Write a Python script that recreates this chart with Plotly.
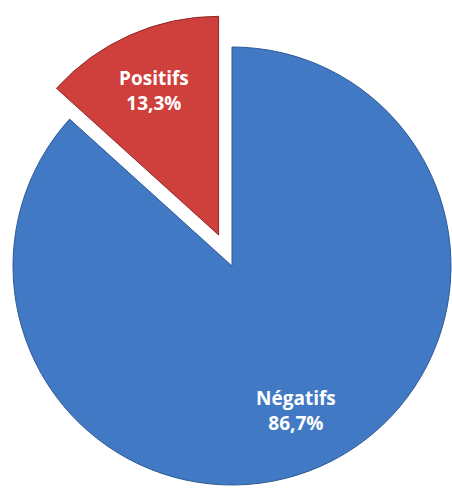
import math
import plotly.graph_objects as go

# Share of test results
labels = ["Négatifs", "Positifs"]
values = [86.7, 13.3]

colors = ["#4279c4", "#cf3f3c"]
edge_colors = ["#2f5a96", "#8e2624"]

W, H = 452, 490
R = 219                 # pie radius in px
CX, CY = 232, 266       # centre of the main pie in px
PULL_PX = 34            # how far the exploded slice is pulled out
LABEL_FRAC = 0.72       # label distance from the centre, as a fraction of R
CLEAR = "rgba(0,0,0,0)"

total = sum(values)


def bisector(i):
    """Clockwise angle (deg, from 12 o'clock) of slice i's middle."""
    start = sum(values[:i]) / total * 360
    return start + values[i] / total * 180


def unit(angle_deg):
    a = math.radians(angle_deg)
    return math.sin(a), -math.cos(a)   # screen coords (y down)


def domain(cx, cy):
    return dict(x=[max(0, (cx - R) / W), min(1, (cx + R) / W)],
                y=[1 - (cy + R) / H, 1 - (cy - R) / H])


fig = go.Figure()
annotations = []

for i, (lab, val) in enumerate(zip(labels, values)):
    ux, uy = unit(bisector(i))
    pull = PULL_PX if i == 1 else 0
    cx, cy = CX + ux * pull, CY + uy * pull

    fill = [colors[j] if j == i else CLEAR for j in range(len(values))]
    edge = [edge_colors[j] if j == i else CLEAR for j in range(len(values))]

    fig.add_trace(go.Pie(
        labels=labels,
        values=values,
        sort=False,
        direction="clockwise",
        rotation=0,
        domain=domain(cx, cy),
        marker=dict(colors=fill, line=dict(color=edge, width=1)),
        textinfo="none",
        hoverinfo="skip",
        showlegend=False,
    ))

    pct = f"{val / total * 100:.1f}".replace(".", ",") + "%"
    lx = cx + ux * R * LABEL_FRAC
    ly = cy + uy * R * LABEL_FRAC
    annotations.append(dict(
        x=lx / W, y=1 - ly / H, xref="paper", yref="paper",
        text=f"<b>{lab}</b><br><b>{pct}</b>",
        showarrow=False, xanchor="center", yanchor="middle",
        font=dict(family="Open Sans", size=19, color="white"),
    ))

fig.update_layout(
    width=W, height=H,
    margin=dict(l=0, r=0, t=0, b=0),
    paper_bgcolor="white",
    plot_bgcolor="white",
    annotations=annotations,
)

fig.write_html("out.html")
